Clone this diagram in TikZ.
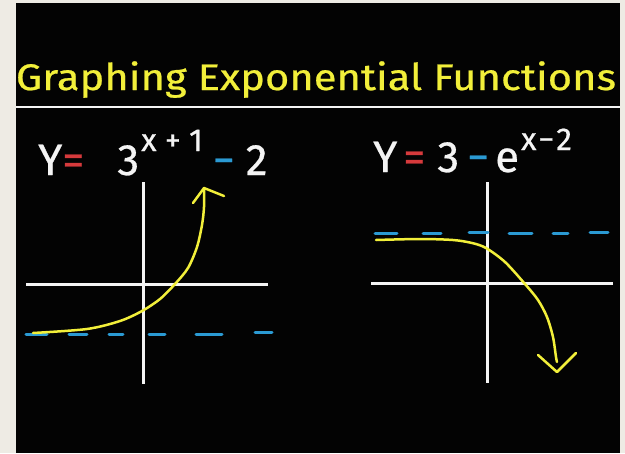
\documentclass[tikz,border=0pt]{standalone}
\usepackage{fontspec}
\setmainfont[FakeBold=0.6]{Fira Sans}
\newfontfamily\titlefont[FakeStretch=1.13, FakeBold=0.6]{Fira Sans}
\usepackage{xcolor}
\usepackage{tikz}
\usetikzlibrary{positioning}
\definecolor{paper}{HTML}{EEEBE4}
\definecolor{board}{HTML}{030303}
\definecolor{chalk}{HTML}{F4F4F4}
\definecolor{marker}{HTML}{F2EF3A}
\definecolor{asymblue}{HTML}{2B9AD3}
\definecolor{signred}{HTML}{D63A3C}
\newlength{\pxu}\setlength{\pxu}{0.04cm}
\newcommand{\supfont}{\fontsize{36}{36}\selectfont}
\tikzset{
  titletext/.style={text=marker, font=\titlefont\fontsize{42}{48}\selectfont, inner sep=0pt},
  eqtext/.style   ={text=chalk, font=\fontsize{50}{56}\selectfont, inner sep=0pt, anchor=base west},
  axisline/.style ={draw=chalk, line width=1.2mm},
  graphline/.style={draw=marker, line width=1mm, line cap=round, line join=round},
  asymdash/.style ={draw=asymblue, line width=1.2mm, line cap=round},
}
\begin{document}
\begin{tikzpicture}[x=0.04cm, y=-0.04cm]
\useasboundingbox[fill=paper] (0,0) rectangle (625,453);
\fill[board] (16,3) rectangle (620,453);

\node[titletext, anchor=base] (title) at (316,90) {Graphing Exponential Functions};
\draw[chalk, line width=0.9mm] (16,107) -- (620,107);

\node[eqtext] (eqleft) at (38,175) {Y\textcolor{signred}{=}\hspace{33\pxu}3\hspace{2\pxu}\raisebox{24\pxu}{\supfont x + 1}\hspace{10\pxu}\textcolor{asymblue}{−}\hspace{11\pxu}2};
\node[eqtext] (eqright) at (373,172) {Y\hspace{6\pxu}\textcolor{signred}{=}\hspace{12\pxu}3\hspace{8\pxu}\textcolor{asymblue}{−}\hspace{6\pxu}e\hspace{2\pxu}\raisebox{22\pxu}{\supfont x\hspace{2\pxu}−\hspace{2\pxu}2}};

\draw[axisline] (26,284) -- (268,284);
\draw[axisline] (143,182) -- (143,384);
\foreach \a/\b/\y in {26/47/334, 69/87/334, 109/123/334, 149/165/334, 196/222/334, 255/272/332}
  \draw[asymdash] (\a,\y) -- (\b,\y);
\draw[graphline] plot[smooth] coordinates {(33,333) (87,329) (120,321) (142,311) (160,299) (175,284) (188,268) (197,247) (202,225) (204,207) (204,188)};
\draw[graphline] (193,203) -- (204,188) -- (224,196);

\draw[axisline] (371,283) -- (613,283);
\draw[axisline] (487,182) -- (487,383);
\foreach \a/\b/\y in {375/397/233, 423/441/233, 469/488/232, 509/532/233, 553/568/233, 590/608/232}
  \draw[asymdash] (\a,\y) -- (\b,\y);
\draw[graphline] plot[smooth] coordinates {(376,240) (420,239) (453,240) (472,243) (486,248) (505,262) (525,284) (538,300) (547,317) (553,337) (556,357) (557,362)};
\draw[graphline] (538,355) -- (557,372) -- (576,353);
\end{tikzpicture}
\end{document}
